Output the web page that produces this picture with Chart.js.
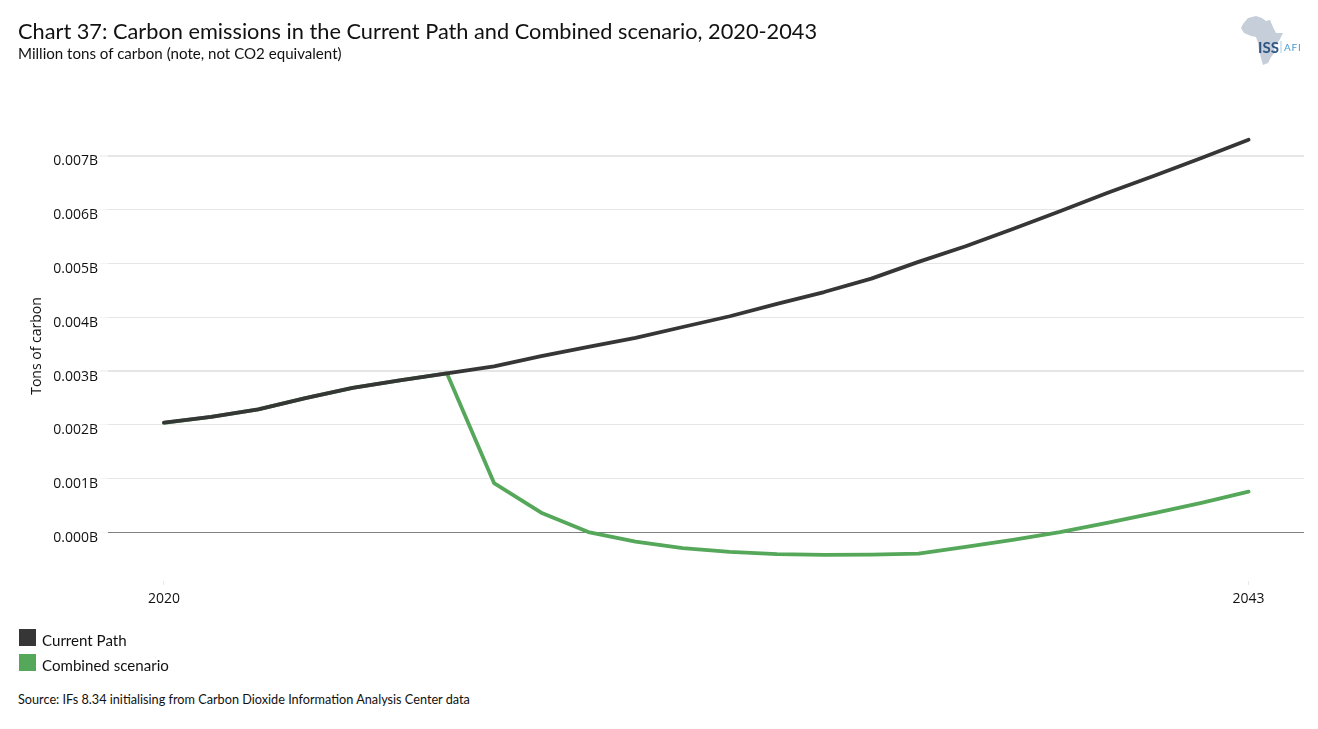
<!DOCTYPE html>
<html>
<head>
<meta charset="utf-8">
<title>Chart 37</title>
<script src="https://cdn.jsdelivr.net/npm/chart.js@4"></script>
<style>
  html, body { margin: 0; padding: 0; background: #fff; }
  #page { position: relative; width: 1318px; height: 729px; overflow: hidden; font-family: Lato, sans-serif; color: #111; }
  #page div { position: absolute; white-space: nowrap; }
  #chartBox { left: 0; top: 0; width: 1318px; height: 620px; }
  .swatch { left: 19px; width: 17px; height: 17px; }
  .legendText { left: 42px; font-size: 15.1px; }
  svg { position: absolute; left: 0; top: 0; }
</style>
</head>
<body>
<div id="page">
  <div id="chartBox"><canvas id="myChart" width="1318" height="620"></canvas></div>
  <div style="left:18px; top:18px; font-size:21.75px;">Chart 37: Carbon emissions in the Current Path and Combined scenario, 2020-2043</div>
  <div style="left:18px; top:44px; font-size:15.1px;">Million tons of carbon (note, not CO2 equivalent)</div>
  <div id="yTitle" style="left:36px; top:346px; font-family:'Open Sans'; font-size:14px; line-height:20px; transform:translate(-50%,-50%) rotate(-90deg);">Tons of carbon</div>
  <svg width="1318" height="80">
    <path d="M1243 24 L1248 18 L1256 16 L1262 18 L1266 21 L1270 20 L1273 27 L1276 33 L1283 33 L1279 41 L1274 46 L1275 52 L1271 57 L1268 63 L1263 65 L1261 58 L1259 50 L1258 43 L1256 37 L1251 36 L1244 33 L1241 28 Z" fill="#c6ced9"/>
    <text x="1258" y="53" font-family="Lato" font-weight="700" font-size="15" fill="#2f5583">ISS</text>
    <line x1="1281" y1="41" x2="1281" y2="53" stroke="#a9cfe0"/>
    <text x="1284" y="51" font-family="Lato" font-size="10" letter-spacing="0.8" fill="#4a9bd0">AFI</text>
  </svg>
  <div class="swatch" id="swatch0" style="top:629px;"></div>
  <div class="legendText" id="legend0" style="top:631px;"></div>
  <div class="swatch" id="swatch1" style="top:654px;"></div>
  <div class="legendText" id="legend1" style="top:656px;"></div>
  <div style="left:18px; top:691px; font-size:12.7px;">Source: IFs 8.34 initialising from Carbon Dioxide Information Analysis Center data</div>
</div>
<script>
/* Data */
const years = [2020, 2021, 2022, 2023, 2024, 2025, 2026, 2027, 2028, 2029, 2030, 2031,
               2032, 2033, 2034, 2035, 2036, 2037, 2038, 2039, 2040, 2041, 2042, 2043];
const currentPath = [0.002045, 0.00215, 0.00229, 0.0025, 0.00269, 0.00283, 0.00296, 0.00309,
                     0.00328, 0.00345, 0.00362, 0.00382, 0.00402, 0.00425, 0.00447, 0.00472,
                     0.00503, 0.00532, 0.00564, 0.00597, 0.00631, 0.00663, 0.00696, 0.0073];
const combined = [0.00204, 0.00215, 0.00229, 0.0025, 0.00269, 0.00283, 0.00296, 0.00092,
                  0.00037, 0.00001, -0.00017, -0.00029, -0.00036, -0.0004, -0.000415, -0.00041,
                  -0.00039, -0.000264, -0.000134, 0.00001, 0.00018, 0.00036, 0.00055, 0.00076];
const seriesNames = ["Current Path", "Combined scenario"];
const seriesColors = ["#363636", "#55a75a"];
const yTicks = [0, 0.001, 0.002, 0.003, 0.004, 0.005, 0.006, 0.007];
const xTicks = [2020, 2043];

/* Legend */
seriesNames.forEach(function (name, i) {
  document.getElementById('legend' + i).textContent = name;
  document.getElementById('swatch' + i).style.background = seriesColors[i];
});

function toPoints(values) {
  return values.map(function (v, i) { return { x: years[i], y: v }; });
}

new Chart("myChart", {
  type: "line",
  data: {
    datasets: [
      { label: seriesNames[1], data: toPoints(combined), borderColor: seriesColors[1], order: 2 },
      { label: seriesNames[0], data: toPoints(currentPath), borderColor: seriesColors[0], order: 1 }
    ]
  },
  options: {
    responsive: false,
    animation: false,
    layout: { padding: { top: 129, right: 14, bottom: 0, left: 0 } },
    elements: {
      point: { radius: 0 },
      line: { borderWidth: 3.8, tension: 0, borderCapStyle: "round", borderJoinStyle: "round" }
    },
    plugins: { legend: { display: false }, tooltip: { enabled: false } },
    scales: {
      x: {
        type: "linear",
        min: 2018.814,
        max: 2044.175,
        afterBuildTicks: function (scale) {
          scale.ticks = xTicks.map(function (v) { return { value: v }; });
        },
        afterFit: function (scale) { scale.height = 39; },
        border: { display: false },
        grid: { drawOnChartArea: false, tickLength: 4, color: "#e8e8e8" },
        ticks: {
          autoSkip: false,
          maxRotation: 0,
          padding: 6,
          color: "#111",
          font: { family: "'Open Sans'", size: 14 },
          callback: function (v) { return String(v); }
        }
      },
      y: {
        min: -0.0009,
        max: 0.0075,
        afterBuildTicks: function (scale) {
          scale.ticks = yTicks.map(function (v) { return { value: v }; });
        },
        afterFit: function (scale) { scale.width = 108; },
        border: { display: false },
        grid: {
          tickLength: 8,
          tickColor: "#f4f4f4",
          color: function (c) { return c.tick && c.tick.value === 0 ? "#808080" : "#e6e6e6"; },
          lineWidth: function (c) {
            return c.tick && (c.tick.value === 0.007 || c.tick.value === 0.003) ? 2 : 1;
          }
        },
        ticks: {
          autoSkip: false,
          padding: 2,
          color: "#111",
          /* blank first line pushes the label a few px under its gridline, as in the reference */
          font: { family: "'Open Sans'", size: 14, lineHeight: "11px" },
          callback: function (v) { return ["", v.toFixed(3) + "B"]; }
        }
      }
    }
  }
});
</script>
</body>
</html>
